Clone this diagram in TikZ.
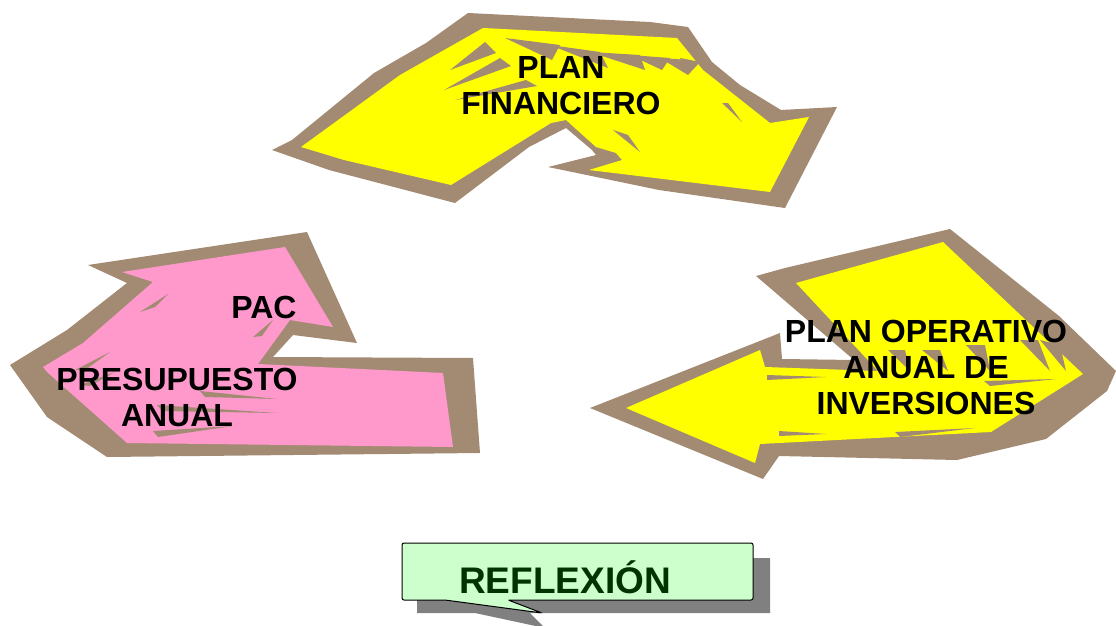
\documentclass[tikz,border=0pt]{standalone}
\usepackage{fontspec}
\setmainfont{Liberation Sans}
\definecolor{brn}{RGB}{163,139,115}
\definecolor{yel}{RGB}{255,255,0}
\definecolor{pnk}{RGB}{255,153,204}
\definecolor{callfill}{RGB}{204,255,204}
\definecolor{calltext}{RGB}{0,51,0}
\definecolor{shad}{RGB}{128,128,128}
\begin{document}
\begin{tikzpicture}[x=1pt,y=-1pt,
  lbl/.style={font=\fontsize{32}{36}\selectfont\bfseries, align=center, inner sep=0pt, text=black},
  streak/.style={fill=brn}]
\useasboundingbox (0,0) rectangle (1116,626);

% ---------- top arrow: PLAN FINANCIERO ----------
\fill[brn] (272,150) -- (292,140) -- (374,73) -- (426,43) -- (468,13) -- (650,22) -- (688,27)
  -- (712,62) -- (740,85) -- (781,110) -- (837,107) -- (785,208) -- (659,190) -- (548,167) -- (596,155)
  -- (592,150) -- (566,128) -- (529,147) -- (455,203) -- (329,170) -- cycle;
\fill[yel] (301,147) -- (400,75) -- (483,28) -- (677,38) -- (703,70) -- (770,123) -- (809,117)
  -- (770,192) -- (589,170) -- (622,160) -- (616,153) -- (596,147) -- (566,120) -- (551,123)
  -- (451,185) -- (344,160) -- cycle;
\fill[streak] (485,42) -- (496,53) -- (450,70) -- cycle;
\fill[streak] (500,58) -- (511,66) -- (444,90) -- cycle;
\fill[streak] (526,80) -- (537,86) -- (455,100) -- cycle;
\fill[streak] (505,38) -- (560,45) -- (552,60) -- cycle;
\fill[streak] (550,45) -- (600,52) -- (608,68) -- cycle;
\fill[streak] (590,52) -- (640,55) -- (645,70) -- cycle;
\fill[streak] (630,55) -- (670,58) -- (662,70) -- cycle;
\fill[streak] (660,58) -- (690,60) -- (688,75) -- cycle;
\fill[streak] (680,58) -- (700,62) -- (688,75) -- cycle;
\fill[streak] (722,103) -- (728,103) -- (742,122) -- cycle;
\fill[streak] (613,130) -- (628,135) -- (640,152) -- cycle;

% ---------- left arrow: PAC / PRESUPUESTO ANUAL ----------
\fill[brn] (10,365) -- (67,330) -- (127,283) -- (88,265) -- (307,232) -- (357,343) -- (293,335)
  -- (273,357) -- (473,358) -- (480,453) -- (107,457) -- (47,417) -- cycle;
\fill[pnk] (43,367) -- (83,343) -- (153,282) -- (122,272) -- (285,247) -- (333,327) -- (290,320)
  -- (258,364) -- (443,373) -- (453,447) -- (127,443) -- (47,372) -- cycle;
\fill[streak] (140,312) -- (168,294) -- (155,307) -- cycle;
\fill[streak] (253,337) -- (273,320) -- (262,336) -- cycle;
\fill[streak] (200,391) -- (277,399) -- (205,397) -- cycle;
\fill[streak] (157,405) -- (277,413) -- (162,411) -- cycle;
\fill[streak] (153,431) -- (233,426) -- (158,437) -- cycle;
\fill[streak] (75,370) -- (110,352) -- (85,370) -- cycle;
\fill[streak] (80,385) -- (115,372) -- (90,386) -- cycle;

% ---------- right arrow: PLAN OPERATIVO ANUAL DE INVERSIONES ----------
\fill[brn] (590,408) -- (780,333) -- (782,359) -- (854,360) -- (756,276) -- (785,268) -- (950,229)
  -- (1059,316) -- (1116,371) -- (1107,391) -- (1046,439) -- (957,460) -- (779,456) -- (763,479) -- cycle;
\fill[yel] (626,408) -- (760,350) -- (765,367) -- (878,371) -- (796,283) -- (943,242) -- (1083,374)
  -- (991,432) -- (760,444) -- (755,463) -- cycle;
\fill[streak] (767,375) -- (826,377) -- (767,380) -- cycle;
\fill[streak] (779,431) -- (826,434) -- (779,436) -- cycle;
\fill[streak] (895,432) -- (975,428) -- (900,437) -- cycle;
\fill[streak] (984,381) -- (1056,379) -- (990,386) -- cycle;
\fill[streak] (888,350) -- (905,350) -- (910,371) -- cycle;
\fill[streak] (922,350) -- (940,350) -- (948,371) -- cycle;
\fill[streak] (966,345) -- (985,345) -- (990,371) -- cycle;
\fill[streak] (1020,340) -- (1038,340) -- (1050,371) -- cycle;
\fill[streak] (1040,340) -- (1060,345) -- (1066,371) -- cycle;

% ---------- callout REFLEXION ----------
\fill[shad] (417,558) -- (770,558) -- (770,613) -- (530,613) -- (545,628) -- (475,613) -- (417,613) -- cycle;
\filldraw[fill=callfill, draw=black, line width=1pt, rounded corners=2pt]
  (402,543) -- (753,543) -- (753,600) -- (508,600) -- (542,613) -- (445,600) -- (402,600) -- cycle;

% ---------- labels ----------
\node[lbl] (pf) at (561,86) {PLAN\\FINANCIERO};
\node[lbl] (pac) at (264,307) {PAC};
\node[lbl] (pa) at (177,397) {PRESUPUESTO\\ANUAL};
\node[lbl] (poai) at (926,367) {PLAN OPERATIVO\\ANUAL DE\\INVERSIONES};
\node[font=\fontsize{37}{40}\selectfont\bfseries, text=calltext, anchor=base, inner sep=0pt] (refl) at (565,593) {REFLEXIÓN};
\end{tikzpicture}
\end{document}
